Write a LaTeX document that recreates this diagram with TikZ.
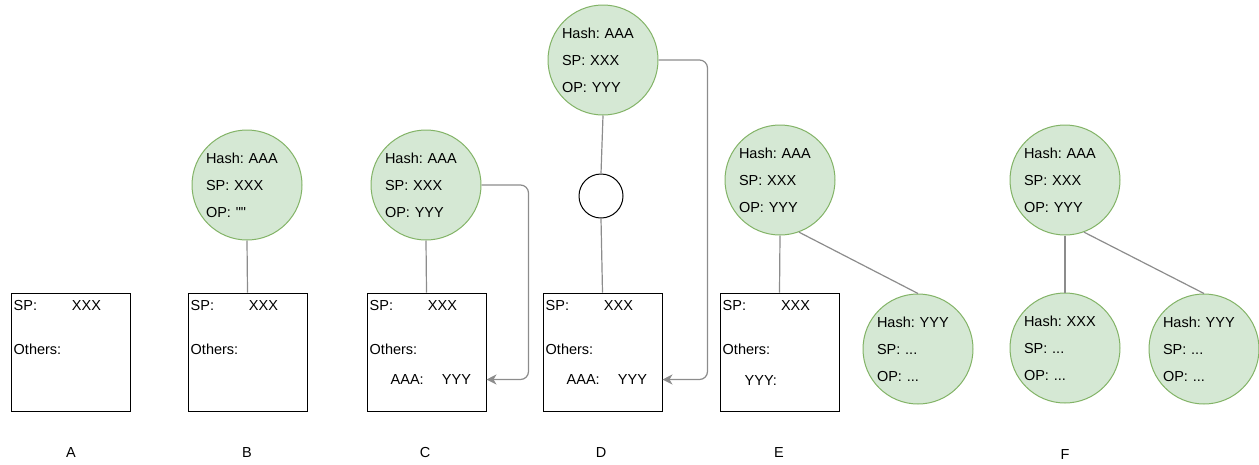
\documentclass[tikz,border=0pt]{standalone}
\usepackage{fontspec}
\setmainfont{Liberation Sans}
\usetikzlibrary{arrows.meta, positioning}
\definecolor{hashfill}{HTML}{D5E8D4}
\definecolor{hashline}{HTML}{82B366}
\definecolor{linkgray}{HTML}{8C8C8C}
\frenchspacing

\begin{document}
\begin{tikzpicture}[x=1pt, y=-1pt,
  font=\fontsize{14.5}{27}\selectfont,
  hashnode/.style={circle, draw=hashline, fill=hashfill, line width=1pt, minimum size=110pt, inner sep=0pt, text width=82pt, align=left},
  storebox/.style={draw, line width=1pt, minimum width=119pt, minimum height=118pt, inner sep=0pt},
  joint/.style={circle, draw, line width=1pt, fill=white, minimum size=44pt, inner sep=0pt},
  field/.style={anchor=west, inner sep=0pt},
  value/.style={inner sep=0pt},
  link/.style={draw=linkgray, line width=1.2pt},
  ref/.style={link, rounded corners=8pt, -{Stealth[length=10pt, width=10pt, inset=3pt]}}
]
\useasboundingbox (0,0) rectangle (1259,464);

% stores
\node[storebox] (boxA) at (70.5,352) {};
\node[storebox] (boxB) at (247.5,352) {};
\node[storebox] (boxC) at (426.5,352) {};
\node[storebox] (boxD) at (602.5,352) {};
\node[storebox] (boxE) at (779.5,352) {};
\foreach \b in {A,B,C,D,E} {
  \node[field] (sp\b) at ([xshift=3pt, yshift=-13pt]box\b.north west) {SP:};
  \node[value] (xxx\b) at ([xshift=76pt, yshift=-13pt]box\b.north west) {XXX};
  \node[field] (others\b) at ([xshift=3pt, yshift=-57pt]box\b.north west) {Others:};
}
\foreach \b in {C,D} {
  \node[field] (aaa\b) at ([xshift=24pt, yshift=-87pt]box\b.north west) {AAA:};
  \node[value] (yyy\b) at ([xshift=90pt, yshift=-87pt]box\b.north west) {YYY};
}
\node[field] (yyyE) at ([xshift=25pt, yshift=-88pt]boxE.north west) {YYY:};

% hashes
\node[hashnode] (hashB) at (247,185) {Hash: AAA\\SP: XXX\\OP: \textquotedbl\textquotedbl};
\node[hashnode] (hashC) at (426,185) {Hash: AAA\\SP: XXX\\OP: YYY};
\node[hashnode] (hashD) at (603,60) {Hash: AAA\\SP: XXX\\OP: YYY};
\node[joint] (jointD) at (601,196) {};
\node[hashnode] (hashE) at (780,180) {Hash: AAA\\SP: XXX\\OP: YYY};
\node[hashnode] (leafE) at (918,349) {Hash: YYY\\SP: ...\\OP: ...};
\node[hashnode] (hashF) at (1065,180) {Hash: AAA\\SP: XXX\\OP: YYY};
\node[hashnode] (leftF) at (1065,348) {Hash: XXX\\SP: ...\\OP: ...};
\node[hashnode] (rightF) at (1204,349) {Hash: YYY\\SP: ...\\OP: ...};

% links
\draw[link] (hashB.south) -- (boxB.north);
\draw[link] (hashC.south) -- (boxC.north);
\draw[link] (hashD.south) -- (jointD.north);
\draw[link] (jointD.south) -- (boxD.north);
\draw[link] (hashE.south) -- (boxE.north);
\draw[link] (hashE.-70) -- (leafE.north);
\draw[link] (hashF.south) -- (leftF.north);
\draw[link] (hashF.-70) -- (rightF.north);

\draw[ref] (hashC.east) -- ++(47,0) |- (boxC.east |- yyyC);
\draw[ref] (hashD.east) -- ++(49,0) |- (boxD.east |- yyyD);

% captions
\node[value] (labA) at (71,453) {A};
\node[value] (labB) at (247,453) {B};
\node[value] (labC) at (425,453) {C};
\node[value] (labD) at (601,453) {D};
\node[value] (labE) at (779,453) {E};
\node[value] (labF) at (1065,455) {F};
\end{tikzpicture}
\end{document}
